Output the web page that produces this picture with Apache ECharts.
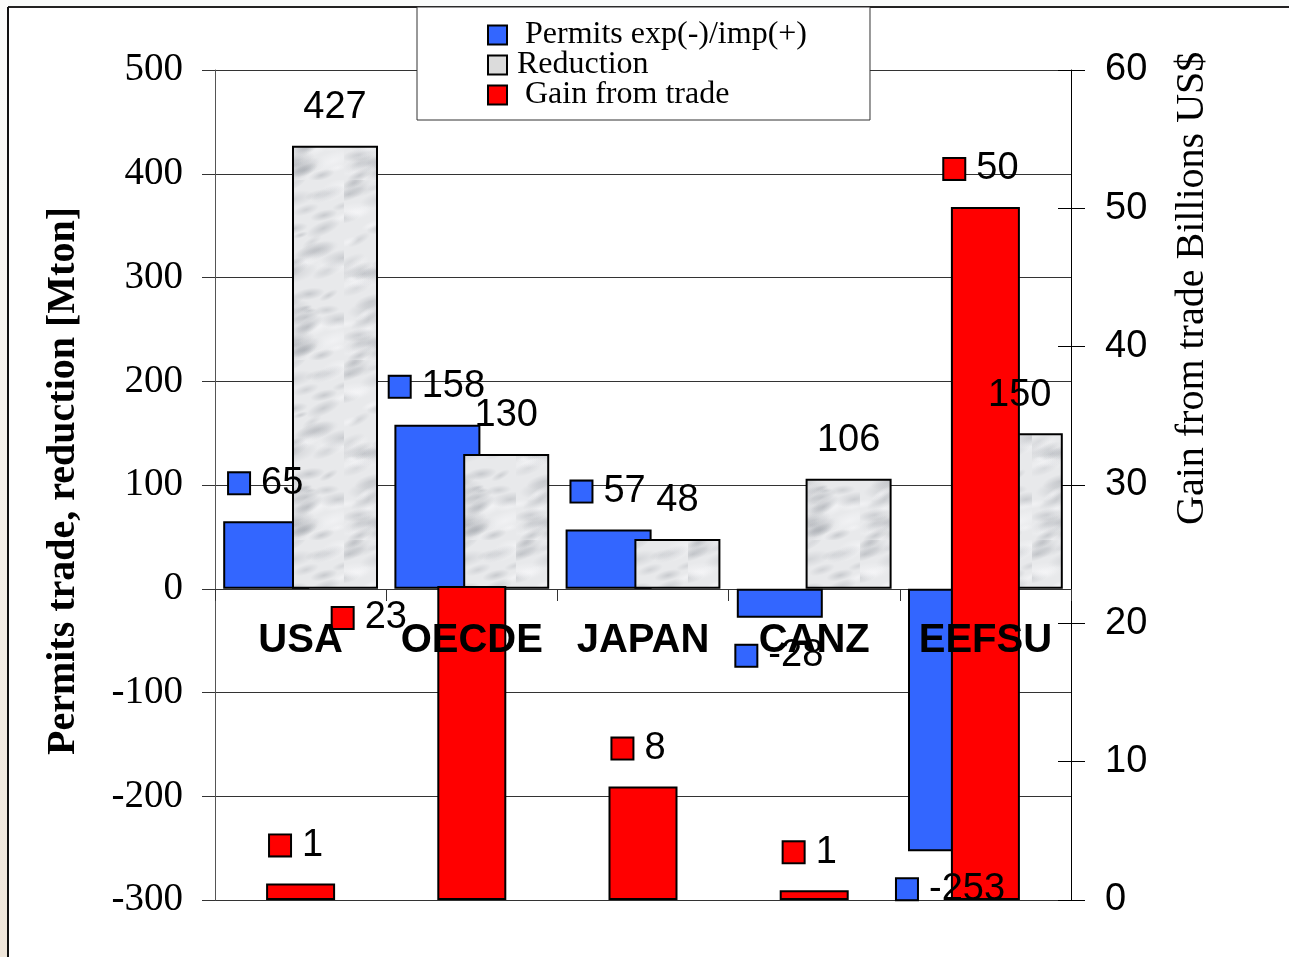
<!DOCTYPE html>
<html>
<head>
<meta charset="utf-8">
<title>Permits trade, reduction and gain from trade</title>
<script src="https://cdn.jsdelivr.net/npm/echarts@6/dist/echarts.min.js"></script>
<style>
  html, body { margin: 0; padding: 0; background: #fff; }
  #chart { width: 1289px; height: 957px; }
</style>
</head>
<body>
<div id="chart"></div>
<script>
// data
const regions = ['USA', 'OECDE', 'JAPAN', 'CANZ', 'EEFSU']
const permits = [65, 158, 57, -28, -253]        // Mton, left axis
const reduction = [427, 130, 48, 106, 150]      // Mton, left axis
const gain = [1.2, 22.7, 8.2, 0.7, 50.1]        // billions US$, right axis
const leftScale = { min: -300, max: 500, step: 100 }
const rightScale = { min: 0, max: 60, step: 10 }

const BLUE = '#3366ff'
const RED = '#ff0000'
const SANS = 'Liberation Sans, Arial, sans-serif'
const SERIF = 'Liberation Serif, Times New Roman, serif'

// soft grey marble fill for the reduction bars (deterministic hash, no randomness)
function hash(n) {
  const s = Math.sin(n * 12.9898) * 43758.5453
  return s - Math.floor(s)
}
function marble() {
  const w = 86
  const h = 180
  const c = document.createElement('canvas')
  c.width = w
  c.height = h
  const g = c.getContext('2d')
  g.fillStyle = '#e8e9eb'
  g.fillRect(0, 0, w, h)
  for (let i = 0; i < 80; i++) {
    const x = hash(i + 1) * w
    const y = hash(i + 101) * h
    const r = 4 + hash(i + 201) * 12
    const dark = i % 3 !== 0
    const a = dark ? 0.14 + hash(i + 301) * 0.22 : 0.5
    const grad = g.createRadialGradient(x, y, 0, x, y, r)
    const col = dark ? '135,140,148' : '250,250,252'
    grad.addColorStop(0, 'rgba(' + col + ',' + a.toFixed(3) + ')')
    grad.addColorStop(1, 'rgba(' + col + ',0)')
    g.fillStyle = grad
    g.save()
    g.translate(x, y)
    g.rotate(-0.6 + hash(i + 401) * 0.5)
    g.scale(1.6, 0.6)
    g.translate(-x, -y)
    g.fillRect(x - r, y - r, r * 2, r * 2)
    g.restore()
  }
  return c
}

function squareLabel(color, position, dx) {
  return {
    show: true,
    position: position,
    distance: 19,
    offset: [dx, 0],
    formatter: function(p) {
      return '{sq|}{t|' + Math.round(p.value) + '}'
    },
    rich: {
      sq: { width: 20, height: 20, backgroundColor: color, borderColor: '#000', borderWidth: 2 },
      t: { fontFamily: SANS, fontSize: 38, lineHeight: 38, color: '#000', padding: [0, 0, 0, 12] }
    }
  }
}

const myChart = echarts.init(document.getElementById('chart'))

const option = {
  animation: false,
  backgroundColor: '#fff',
  grid: [
    { left: 215, right: 218, top: 70, bottom: 57, outerBoundsMode: 'none', containLabel: false },
    // second grid whose bottom edge is the zero line: carries the category labels
    { left: 215, right: 218, top: 70, height: 519, outerBoundsMode: 'none', containLabel: false }
  ],
  legend: {
    orient: 'vertical',
    align: 'left',
    left: 417,
    top: 7,
    padding: [12, 63, 9, 70],
    itemGap: -2,
    itemWidth: 19,
    itemHeight: 19,
    backgroundColor: '#fff',
    borderColor: '#333',
    borderWidth: 1,
    z: 20,
    formatter: function(name) {
      return name === 'Reduction' ? name : ' ' + name
    },
    textStyle: { fontFamily: SERIF, fontSize: 32, lineHeight: 30, color: '#000', padding: [0, 0, 0, 5] },
    data: [
      { name: 'Permits exp(-)/imp(+)', icon: 'rect' },
      { name: 'Reduction', icon: 'rect', itemStyle: { color: '#dcdcdc' } },
      { name: 'Gain from trade', icon: 'rect' }
    ]
  },
  xAxis: [{
    type: 'category',
    gridIndex: 0,
    data: regions,
    axisLine: { show: false },
    axisTick: { show: false },
    axisLabel: { show: false }
  }, {
    type: 'category',
    gridIndex: 0,
    data: regions,
    show: false
  }, {
    type: 'category',
    gridIndex: 1,
    data: regions,
    position: 'bottom',
    z: 5,
    axisLine: { show: false },
    axisTick: { show: true, interval: 0, length: 12, lineStyle: { color: '#333' } },
    axisLabel: {
      interval: 0,
      margin: 32,
      fontFamily: SANS,
      fontWeight: 'bold',
      fontSize: 40,
      lineHeight: 40,
      color: '#000'
    }
  }],
  yAxis: [{
    type: 'value',
    gridIndex: 0,
    position: 'left',
    min: leftScale.min,
    max: leftScale.max,
    interval: leftScale.step,
    axisLine: { show: true, lineStyle: { color: '#555', width: 1 } },
    axisTick: { show: true, length: 13, lineStyle: { color: '#333' } },
    axisLabel: { margin: 32, fontFamily: SERIF, fontSize: 39, color: '#000' },
    splitLine: { show: true, lineStyle: { color: '#333', width: 1 } }
  }, {
    type: 'value',
    gridIndex: 0,
    position: 'right',
    min: rightScale.min,
    max: rightScale.max,
    interval: rightScale.step,
    axisLine: { show: true, lineStyle: { color: '#000', width: 1 } },
    axisTick: { show: true, length: 14, lineStyle: { color: '#000' } },
    axisLabel: { margin: 34, fontFamily: SANS, fontSize: 38, color: '#000' },
    splitLine: { show: false }
  }, {
    // inner half of the crossing ticks on the right axis
    type: 'value',
    gridIndex: 0,
    position: 'right',
    min: rightScale.min,
    max: rightScale.max,
    interval: rightScale.step,
    axisLine: { show: false },
    axisTick: { show: true, inside: true, length: 13, lineStyle: { color: '#000' } },
    axisLabel: { show: false },
    splitLine: { show: false }
  }, {
    type: 'value',
    gridIndex: 1,
    show: false
  }],
  graphic: [
    {
      type: 'rect',
      silent: true,
      shape: { x: 0, y: 0, width: 8, height: 957 },
      style: {
        fill: new echarts.graphic.LinearGradient(0, 0, 0, 1, [
          { offset: 0, color: '#fbfcfb' },
          { offset: 1, color: '#efe6da' }
        ])
      }
    },
    {
      type: 'rect',
      silent: true,
      shape: { x: 8, y: 0, width: 1281, height: 7 },
      style: { fill: '#f9fbfa' }
    },
    {
      type: 'line',
      silent: true,
      shape: { x1: 8, y1: 7, x2: 1289, y2: 7 },
      style: { stroke: '#222', lineWidth: 2 }
    },
    {
      type: 'line',
      silent: true,
      shape: { x1: 8, y1: 7, x2: 8, y2: 957 },
      style: { stroke: '#111', lineWidth: 2 }
    },
    {
      type: 'text',
      x: 64,
      y: 755,
      rotation: Math.PI / 2,
      style: {
        text: 'Permits trade, reduction [Mton]',
        font: 'bold 40px ' + SERIF,
        fill: '#000',
        textAlign: 'left',
        textVerticalAlign: 'middle'
      }
    },
    {
      type: 'text',
      x: 1192,
      y: 525,
      rotation: Math.PI / 2,
      style: {
        text: 'Gain from trade Billions US$',
        font: '40px ' + SERIF,
        fill: '#000',
        textAlign: 'left',
        textVerticalAlign: 'middle'
      }
    }
  ],
  series: [{
    name: 'Permits exp(-)/imp(+)',
    type: 'bar',
    xAxisIndex: 0,
    yAxisIndex: 0,
    barWidth: 86,
    barGap: '-20%',
    itemStyle: { color: BLUE, borderColor: '#000', borderWidth: 2 },
    label: squareLabel(BLUE, 'outside', 0),
    data: permits
  }, {
    name: 'Reduction',
    type: 'bar',
    xAxisIndex: 0,
    yAxisIndex: 0,
    barWidth: 86,
    barGap: '-20%',
    itemStyle: { color: { image: marble(), repeat: 'repeat' }, borderColor: '#000', borderWidth: 2 },
    label: {
      show: true,
      position: 'top',
      distance: 19,
      fontFamily: SANS,
      fontSize: 38,
      lineHeight: 38,
      color: '#000'
    },
    data: reduction
  }, {
    name: 'Gain from trade',
    type: 'bar',
    xAxisIndex: 1,
    yAxisIndex: 1,
    barWidth: 69,
    itemStyle: { color: RED, borderColor: '#000', borderWidth: 2 },
    label: squareLabel(RED, 'top', -4),
    // the OECDE label sits off its bar in the original
    data: gain.map(function(v, i) {
      return i === 1 ? { value: v, label: { offset: [-102, 70] } } : v
    })
  }]
}

myChart.setOption(option)
</script>
</body>
</html>
